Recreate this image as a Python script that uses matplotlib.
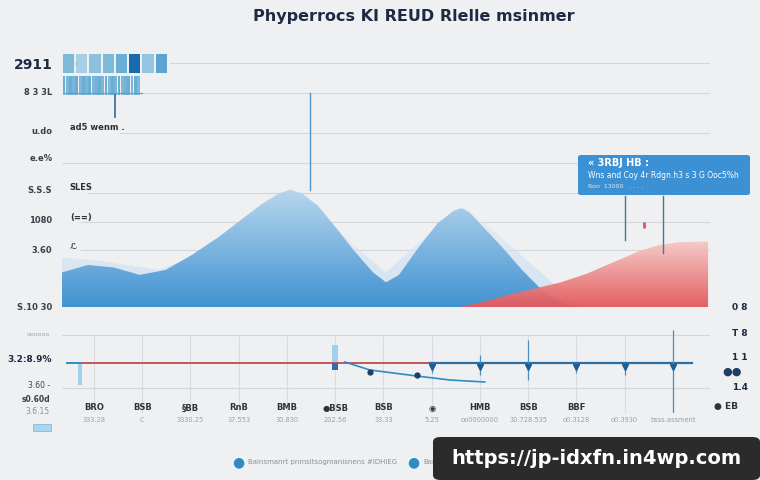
import matplotlib.pyplot as plt
import numpy as np
from matplotlib.colors import LinearSegmentedColormap
from matplotlib.patches import FancyBboxPatch

BG = "#eff0f2"
W, H = 760, 480

# ---- top panel data (x: 0..100, y: 0..104) ----
blue_x = [0, 4, 8, 12, 16, 20, 24, 28, 31, 33.5, 35.2, 37, 39.5, 42, 45, 48, 50,
          52, 55, 58, 60.5, 61.7, 63, 65.5, 68, 71, 74, 77, 79]
blue_y = [14, 17, 16, 13, 15, 21, 28, 36, 42, 46, 47.5, 46, 41, 33, 23, 14, 10,
          13, 24, 34, 39, 40, 38, 31, 24, 15, 7, 2, 0]
back_x = [0, 5, 10, 15, 20, 26, 31, 35.2, 40, 45, 50, 55, 61.7, 67, 73, 80]
back_y = [20, 19, 17, 15, 20, 31, 41, 47, 38, 25, 14, 26, 41, 30, 16, 0]
red_x = [61.4, 65, 69, 73, 77, 81, 85, 89, 92, 95, 99.7, 99.7]
red_y = [0, 2, 5, 7.5, 10, 13.5, 18, 22.5, 25, 26.2, 26.5, 0]

block_vals = [0.45, 0.35, 0.42, 0.45, 0.5, 0.78, 0.4, 0.55]
stripe_vals = [0.5, 0.46, 0.5, 0.47, 0.5, 0.45, 0.5, 0.47, 0.5, 0.46, 0.48, 0.5,
               0.46, 0.5, 0.45, 0.5, 0.47, 0.5, 0.45, 0.48, 0.5, 0.46, 0.5, 0.45]

grid_levels = [98.8, 86.6, 70.4, 58.3, 46.2, 34.4, 23.1]
grid_starts = [16.7, 12, 9, 0, 4, 3, 3]
left_labels = ["2911", "8 3 3L", "u.do", "e.e%", "S.S.S", "1080", "3.60", "S.10 30"]
left_label_y = [98, 87, 71, 60, 47, 35, 23, 0]
inner_labels = ["ad5 wenm .", "SLES", "(==)", "\u2112"]
inner_label_y = [71, 47, 34.6, 23.1]

# ---- bottom panel data ----
n_cats = 13
spike_pos = [7, 8, 9, 10, 11, 12]
spike_top = [50, 58, 73, 50, 50, 83]
spike_bot = [40, 38, 33, 40, 38, 0]
curve_x = [5.2, 5.72, 6.69, 7.38, 8.1]
curve_y = [51, 43, 37, 33, 31]
dot_x = [5.72, 6.69]
dot_y = [41, 38]
bold_ticks = ["BRO", "BSB", "\u00a7BB", "RnB", "BMB", "\u25cfBSB", "BSB", "\u25c9",
              "HMB", "BSB", "BBF", "", ""]
grey_ticks = ["333.28", "C", "3330.25", "37.553", "30.830", "202.56", "33.33",
              "5.25", "oo0000000", "30.728.535", "o0.3128", "o0.3930", "bsss.assment"]
right_labels = ["0 8", "T 8", "1 1", "1.4"]
right_label_py = [308, 333, 358, 388]


def fx(px):
    return px / W


def fy(py):
    return 1 - py / H


def grad_fill(ax, x, y, c_top, c_bot, alpha, z):
    poly = ax.fill_between(x, 0, y, color="none", lw=0)
    cmap = LinearSegmentedColormap.from_list("g", [c_bot, c_top])
    grad = np.linspace(0, 1, 256).reshape(-1, 1)
    im = ax.imshow(grad, aspect="auto", cmap=cmap, origin="lower",
                   extent=[min(x), max(x), 0, max(y)], alpha=alpha, zorder=z)
    im.set_clip_path(poly.get_paths()[0], transform=ax.transData)


fig = plt.figure(figsize=(7.6, 4.8), dpi=100, facecolor=BG)

fig.text(fx(414), fy(17), "Phyperrocs KI REUD Rlelle msinmer", ha="center",
         va="center", fontsize=11.5, color="#1d2a44", fontweight="bold")

# ---------------- top panel ----------------
ax = fig.add_axes([fx(62), fy(307), 648 / W, 257 / H])
ax.set_facecolor(BG)
for lv, st in zip(grid_levels, grid_starts):
    ax.plot([st, 100], [lv, lv], color="#d3d6da", lw=0.8, zorder=1)
ax.plot([0, 100], [0, 0], color="#cfd3d8", lw=0.8, zorder=1)

grad_fill(ax, back_x, back_y, "#e6eff8", "#b9d7ee", 0.55, 2)
grad_fill(ax, blue_x, blue_y, "#b6d6ef", "#3a8ed0", 0.95, 3)
grad_fill(ax, red_x, red_y, "#f6c9c7", "#e4585a", 0.95, 4)

blues = plt.get_cmap("Blues")
ax.bar(np.arange(len(block_vals)) * 2.045 + 1.0, 7.7, bottom=94.7, width=1.75,
       color=[blues(v) for v in block_vals], zorder=5)
ax.bar(np.arange(len(stripe_vals)) * 0.5 + 0.3, 7.7, bottom=85.8, width=0.44,
       color=[blues(v) for v in stripe_vals], zorder=5)
ax.plot([8.2, 8.2], [77, 85.8], color="#2e6aa0", lw=1.2, zorder=5)

# peak marker line
ax.plot([38.3, 38.3], [86.6, 47.5], color="#4b94cc", lw=1, zorder=6)
ax.plot([0.3, 12.3], [86.6, 86.6], color="#8a9099", lw=0.8, zorder=5)

# annotation lines to red area
ax.plot([86.9, 86.9], [45, 27], color="#3c7e8c", lw=1, zorder=6)
ax.plot([92.7, 92.7], [45, 22], color="#3c7e8c", lw=1, zorder=6)
ax.plot([89.8], [33], marker="|", color="#d9545a", ms=5, mew=2, zorder=6)

ax.set_xlim(0, 100)
ax.set_ylim(0, 104)
ax.axis("off")

for lab, y in zip(left_labels, left_label_y):
    big = lab == "2911"
    ax.text(-1.5, y, lab, ha="right", va="center", transform=ax.transData,
            fontsize=10 if big else 6, fontweight="bold",
            color="#1d2a44" if big else "#3a3f48", clip_on=False)
for lab, y in zip(inner_labels, inner_label_y):
    ax.text(1.2, y + 1.5, lab, ha="left", va="center", fontsize=6,
            fontweight="bold", color="#2b3038")
ax.text(2.5, 98.5, "\u25cf", ha="center", va="center", fontsize=6, color="#6fb0da")

# annotation box
box = FancyBboxPatch((fx(578), fy(195)), (750 - 578) / W, 40 / H,
                     boxstyle="round,pad=0,rounding_size=0.004",
                     transform=fig.transFigure, facecolor="#3c90d4",
                     edgecolor="none", zorder=10)
fig.add_artist(box)
fig.text(fx(588), fy(163), "\u00ab 3RBJ HB :", fontsize=7, fontweight="bold",
         color="white", va="center", zorder=11)
fig.text(fx(588), fy(176), "Wns and Coy 4r Rdgn.h3 s 3 G Ooc5%h", fontsize=5.5,
         color="white", va="center", zorder=11)
fig.text(fx(588), fy(187), "Ron  13000   . . . .", fontsize=4.5,
         color="#dcecf8", va="center", zorder=11)

# ---------------- bottom panel ----------------
bx = fig.add_axes([fx(62), fy(413), 648 / W, 83 / H])
bx.set_facecolor(BG)
xs = np.arange(n_cats)
bx.vlines(xs, 0, 78, color="#d8dbdf", lw=0.8, zorder=1)
for lv in [78, 25, 0]:
    bx.axhline(lv, color="#d3d6da", lw=0.8, zorder=1)

bx.plot([-0.29, 6.96], [50, 50], color="#c0555a", lw=1.4, zorder=3)
bx.plot([6.96, 12.39], [50, 50], color="#2a6fa6", lw=1.6, zorder=3)
bx.plot([-0.55, -0.29], [50, 50], color="#2a8fc0", lw=1.4, zorder=3)
bx.bar([-0.29], [22], bottom=28, width=0.09, color="#9fd0ec", zorder=2)
bx.bar([5], [25], bottom=43, width=0.12, color="#9fd0ec", zorder=2)
bx.bar([5], [7], bottom=43, width=0.12, color="#2d6ea8", zorder=3)

bx.vlines(spike_pos, spike_bot, spike_top, color="#4a8fc4", lw=0.9, zorder=4)
bx.plot(spike_pos, [46] * len(spike_pos), ls="none", marker="v", ms=4,
        color="#1f5c8f", zorder=5)
bx.plot(curve_x, curve_y, color="#2f8cc6", lw=1.2, zorder=4)
bx.plot(dot_x, dot_y, ls="none", marker="o", ms=3.5, color="#1d3f66", zorder=6)

bx.set_xlim(-0.663, 12.77)
bx.set_ylim(0, 83)
bx.axis("off")

for i in range(n_cats):
    if bold_ticks[i]:
        bx.text(i, 5, bold_ticks[i], ha="center", va="center", fontsize=6,
                fontweight="bold", color="#2e333b")
    bx.text(i, -7, grey_ticks[i], ha="center", va="center", fontsize=4.8,
            color="#9aa0a8", clip_on=False)

fig.text(fx(50), fy(335), "oooooo", ha="right", va="center", fontsize=4.5, color="#9aa0a8")
fig.text(fx(52), fy(360), "3.2:8.9%", ha="right", va="center", fontsize=6.5,
         fontweight="bold", color="#1d2a44")
fig.text(fx(50), fy(386), "3.60 -", ha="right", va="center", fontsize=5.5, color="#3a3f48")
fig.text(fx(50), fy(400), "s0.60d", ha="right", va="center", fontsize=5.5,
         fontweight="bold", color="#3a3f48")
fig.text(fx(50), fy(411), "3.6.15", ha="right", va="center", fontsize=5.5, color="#8a9099")
fig.add_artist(FancyBboxPatch((fx(33), fy(431)), 18 / W, 7 / H, boxstyle="square,pad=0",
                              transform=fig.transFigure, facecolor="#a9d7f0",
                              edgecolor="#7fbfe4", lw=0.6))

for lab, py in zip(right_labels, right_label_py):
    fig.text(fx(748), fy(py), lab, ha="right", va="center", fontsize=6.5,
             fontweight="bold", color="#1d2a44")
fig.text(fx(722), fy(372), "\u25cf\u25cf", ha="left", va="center", fontsize=8,
         color="#1d3f66")
fig.text(fx(714), fy(407), "\u25cf EB", ha="left", va="center", fontsize=6.5,
         fontweight="bold", color="#2e333b")

# legend
fig.text(fx(238), fy(462), "\u25cf", ha="center", va="center", fontsize=10, color="#2e8bc8")
fig.text(fx(248), fy(462), "Bainsmanrt pnmsitsogmanisnens #IDHIEG", ha="left",
         va="center", fontsize=5, color="#8a9099")
fig.text(fx(413), fy(462), "\u25cf", ha="center", va="center", fontsize=10, color="#2e8bc8")
fig.text(fx(423), fy(462), "Bane", ha="left", va="center", fontsize=5, color="#8a9099")

# url badge
fig.add_artist(FancyBboxPatch((fx(433), fy(480)), (760 - 433) / W, 43 / H,
                              boxstyle="round,pad=0,rounding_size=0.01",
                              transform=fig.transFigure, facecolor="#2b2b2b",
                              edgecolor="none", zorder=20))
fig.text(fx(596), fy(459), "https://jp-idxfn.in4wp.com", ha="center", va="center",
         fontsize=14, fontweight="bold", color="white", zorder=21)

plt.savefig("out.png", dpi=100, facecolor=BG)
plt.close()
